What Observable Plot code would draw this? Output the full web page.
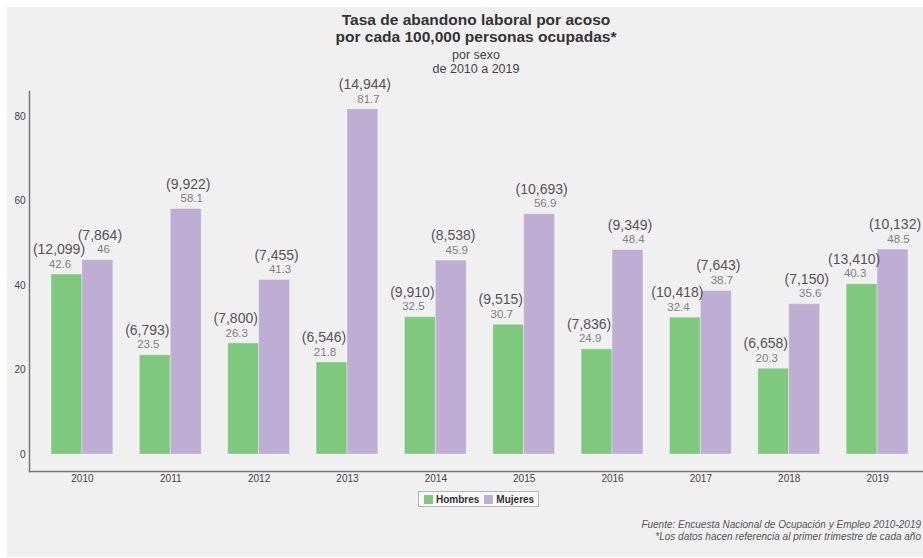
<!DOCTYPE html>
<html>
<head>
<meta charset="utf-8">
<script src="https://cdn.jsdelivr.net/npm/d3@7"></script>
<script src="https://cdn.jsdelivr.net/npm/@observablehq/plot@0.6"></script>
<style>
  body { margin: 0; background: #fff; font-family: "Liberation Sans", Arial, Helvetica, sans-serif; }
  #wrap { position: relative; width: 923px; height: 558px; overflow: hidden; background: #fff; }
  #bg { position: absolute; left: 7px; top: 7px; right: 0; bottom: 1px; background: #f0f0f0; }
  #chart { position: absolute; left: 0; top: 0; width: 930px; }
  #chart svg { max-width: none !important; }
  #title { position: absolute; left: 29px; width: 894px; top: 12px; text-align: center; color: #333; font-weight: bold; font-size: 15.5px; line-height: 16.5px; }
  #subtitle { position: absolute; left: 29px; width: 894px; top: 48px; text-align: center; color: #444; font-size: 12.5px; line-height: 14px; }
  #legend { position: absolute; left: 418px; top: 491px; width: 114px; height: 14px; border: 1px solid #b5b5b5; background: #f8f8f8; font-size: 10px; font-weight: bold; color: #333; display: flex; align-items: center; padding-left: 5px; box-sizing: content-box; }
  #legend .sw { display: inline-block; width: 9px; height: 9px; margin-right: 3px; }
  #legend .item { display: flex; align-items: center; margin-right: 5px; }
  #caption { position: absolute; right: 2px; top: 519px; text-align: right; font-style: italic; font-size: 10px; line-height: 11.5px; color: #555; white-space: nowrap; }
</style>
</head>
<body>
<div id="wrap">
  <div id="bg"></div>
  <div id="chart"></div>
  <div id="title"></div>
  <div id="subtitle"></div>
  <div id="legend"></div>
  <div id="caption"></div>
</div>
<script>
const titleLines = ["Tasa de abandono laboral por acoso", "por cada 100,000 personas ocupadas*"];
const subtitleLines = ["por sexo", "de 2010 a 2019"];
const captionLines = ["Fuente: Encuesta Nacional de Ocupación y Empleo 2010-2019", "*Los datos hacen referencia al primer trimestre de cada año"];

const years = ["2010", "2011", "2012", "2013", "2014", "2015", "2016", "2017", "2018", "2019"];
const series = ["Hombres", "Mujeres"];
const hombresTasa = [42.6, 23.5, 26.3, 21.8, 32.5, 30.7, 24.9, 32.4, 20.3, 40.3];
const mujeresTasa = [46, 58.1, 41.3, 81.7, 45.9, 56.9, 48.4, 38.7, 35.6, 48.5];
const hombresCasos = [12099, 6793, 7800, 6546, 9910, 9515, 7836, 10418, 6658, 13410];
const mujeresCasos = [7864, 9922, 7455, 14944, 8538, 10693, 9349, 7643, 7150, 10132];
const yTicks = [0, 20, 40, 60, 80];
const colors = ["#7fc97f", "#beaed4"];

document.getElementById("title").innerHTML = titleLines.join("<br>");
document.getElementById("subtitle").innerHTML = subtitleLines.join("<br>");
document.getElementById("caption").innerHTML = captionLines.join("<br>");
document.getElementById("legend").innerHTML = series.map((s, i) =>
  `<span class="item"><span class="sw" style="background:${colors[i]}"></span>${s}</span>`).join("");

const rows = years.flatMap((y, i) => [
  {year: y, sexo: "Hombres", tasa: hombresTasa[i], casos: hombresCasos[i]},
  {year: y, sexo: "Mujeres", tasa: mujeresTasa[i], casos: mujeresCasos[i]}
]);
const H = rows.filter(d => d.sexo === "Hombres");
const M = rows.filter(d => d.sexo === "Mujeres");
const fmt = d3.format(",");
const half = 30.9;

const chart = Plot.plot({
  width: 930,
  height: 500,
  marginLeft: 29,
  marginRight: 0,
  marginTop: 91,
  marginBottom: 29,
  style: {background: "transparent", fontFamily: "Liberation Sans, Arial, sans-serif", fontSize: "10px", color: "#444", maxWidth: "none"},
  x: {type: "band", domain: years, paddingInner: 0.3, paddingOuter: 0.249, align: 0.5, round: false, label: null},
  y: {domain: [-4.02, 85.92], label: null},
  marks: [
    Plot.barY(H, {x: "year", y: "tasa", fill: colors[0], insetRight: half, stroke: "#ffffff", strokeOpacity: 0.35, strokeWidth: 1}),
    Plot.barY(M, {x: "year", y: "tasa", fill: colors[1], insetLeft: half, stroke: "#ffffff", strokeOpacity: 0.35, strokeWidth: 1}),
    Plot.text(H, {x: "year", y: "tasa", text: d => `(${fmt(d.casos)})`, dx: -half / 2 - 8, dy: -25, fontSize: 14, fill: "#555"}),
    Plot.text(M, {x: "year", y: "tasa", text: d => `(${fmt(d.casos)})`, dx: half / 2 + 2, dy: -25, fontSize: 14, fill: "#555"}),
    Plot.text(H, {x: "year", y: "tasa", text: d => String(d.tasa), dx: -half / 2 - 7, dy: -10.5, fontSize: 11.5, fill: "#808080"}),
    Plot.text(M, {x: "year", y: "tasa", text: d => String(d.tasa), dx: half / 2 + 5.5, dy: -10.5, fontSize: 11.5, fill: "#808080"}),
    Plot.axisY({ticks: yTicks, tickSize: 0, tickPadding: 4, label: null, fontSize: 10}),
    Plot.axisX({tickSize: 0, tickPadding: 3, label: null, fontSize: 10}),
    Plot.frame({anchor: "left", stroke: "#777", strokeWidth: 1.5}),
    Plot.frame({anchor: "bottom", stroke: "#777", strokeWidth: 1.5})
  ]
});
document.getElementById("chart").appendChild(chart);
</script>
</body>
</html>
